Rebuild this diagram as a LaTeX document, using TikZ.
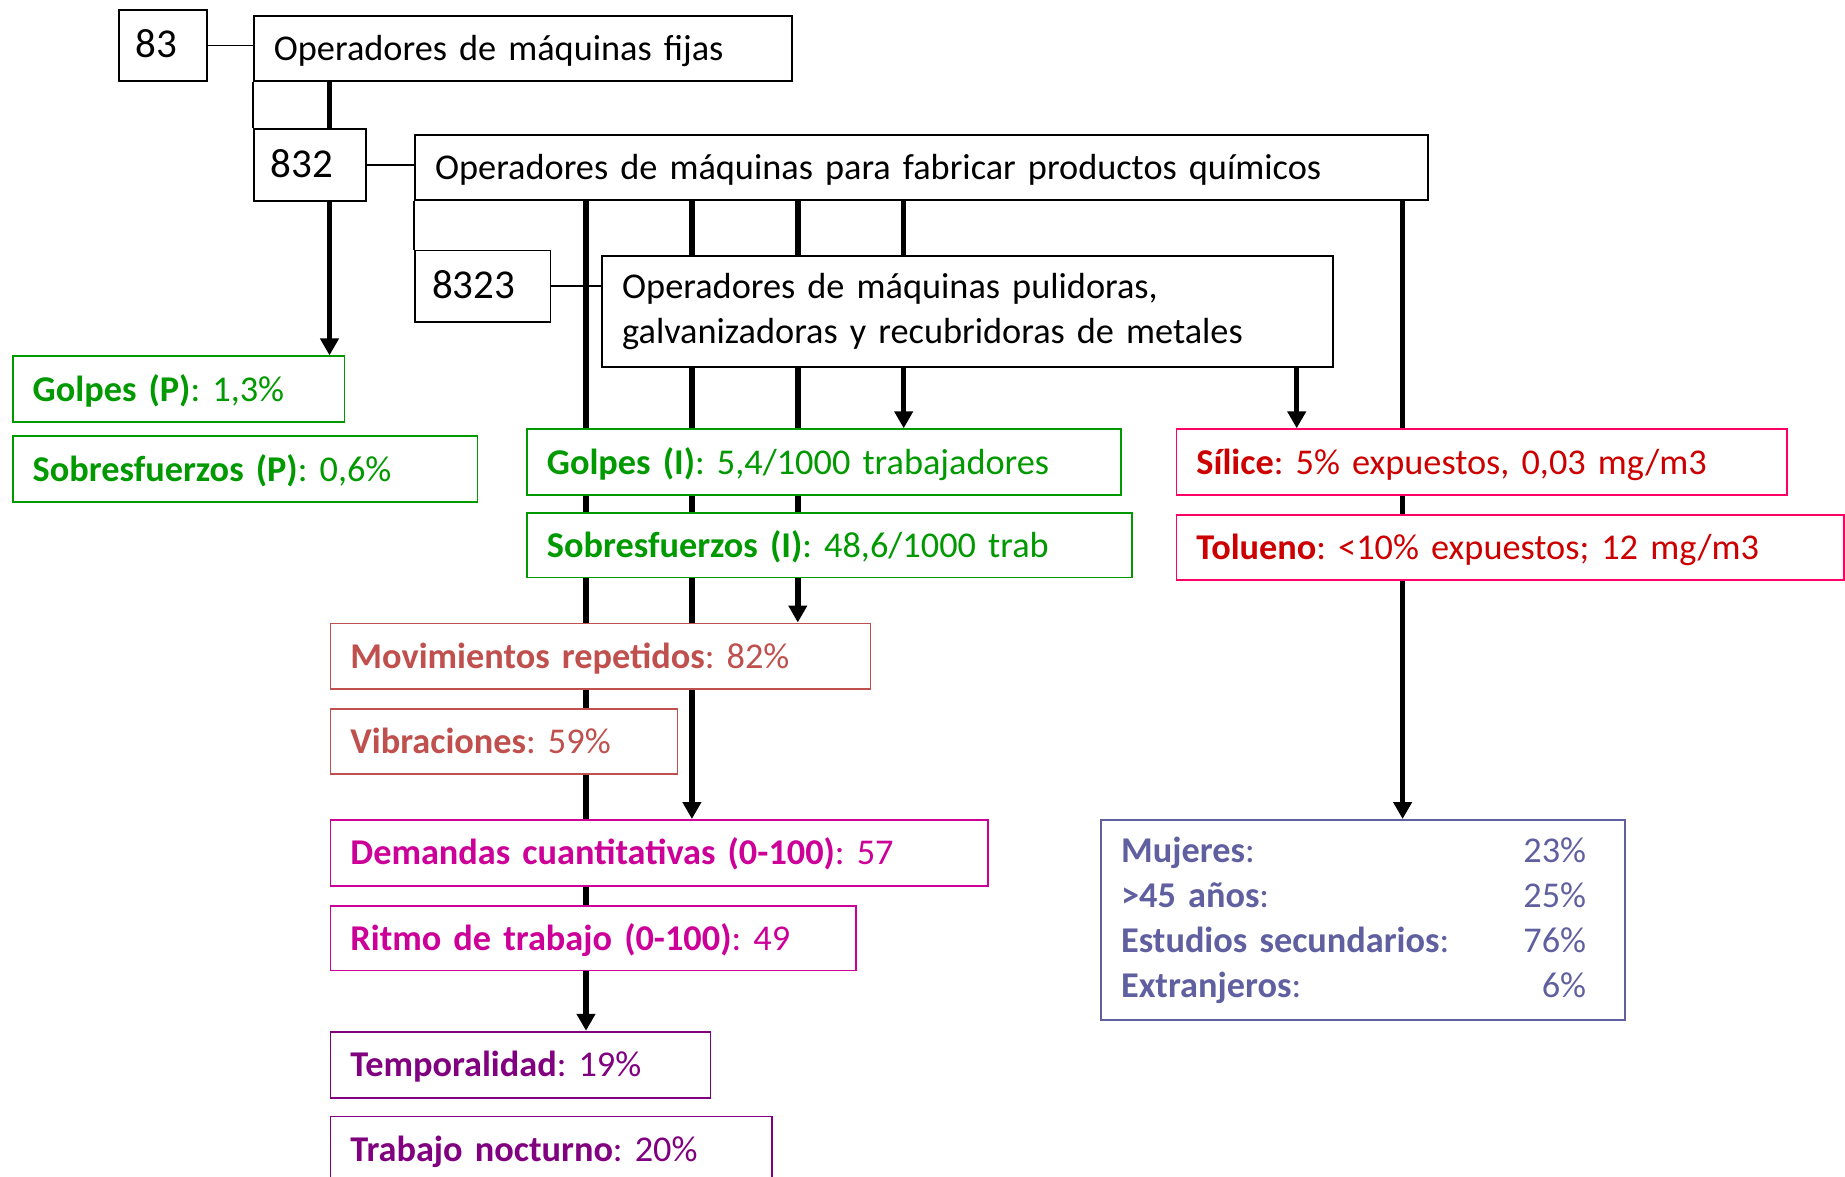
\documentclass[tikz,border=0pt]{standalone}
\usepackage{fontspec}
\setmainfont{Carlito}
\usetikzlibrary{arrows.meta,backgrounds}
\definecolor{cgreen}{RGB}{0,153,0}
\definecolor{cred}{RGB}{204,0,0}
\definecolor{cpink}{RGB}{255,0,102}
\definecolor{csalmon}{RGB}{192,80,77}
\definecolor{cmag}{RGB}{204,0,153}
\definecolor{cpurp}{RGB}{128,0,128}
\definecolor{cslate}{RGB}{96,96,160}
\frenchspacing
\begin{document}
\begin{tikzpicture}[x=1pt,y=-1pt,
 box/.style={draw, line width=1.8pt, fill=white, anchor=north west, inner xsep=20pt, inner ysep=0pt, align=left, font=\fontsize{36.3}{45}\selectfont},
 one/.style={text height=29pt, text depth=5pt},
 kbox/.style={box, one},
 numbox/.style={box, one, font=\fontsize{41}{45}\selectfont, inner xsep=17pt},
 gbox/.style={box, one, draw=cgreen, text=cgreen},
 rbox/.style={box, one, draw=cpink, text=cred},
 sbox/.style={box, one, draw=csalmon, text=csalmon},
 mbox/.style={box, one, draw=cmag, text=cmag},
 pbox/.style={box, one, draw=cpurp, text=cpurp},
 ubox/.style={box, draw=cslate, text=cslate},
 thinline/.style={line width=1.6pt},
 arr/.style={line width=5.5pt, -{Triangle[width=18pt,length=17pt]}},
 thickline/.style={line width=5.5pt},
]
\useasboundingbox (0,0) rectangle (1845,1176);

% top hierarchy
\node[numbox, text width=54.2pt, minimum height=70.6pt] (n83) at (117.7,9.4) {83};
\node[kbox, text width=497.7pt, minimum height=64.7pt] (fijas) at (253.0,15.3) {Operadores de máquinas fijas};
\node[numbox, text width=77.8pt, minimum height=71.7pt] (n832) at (253.0,128.3) {832};
\node[kbox, text width=973.1pt, minimum height=64.8pt] (chem) at (414.2,134.1) {Operadores de máquinas para fabricar productos químicos};
\node[numbox, text width=101.3pt, minimum height=71.7pt] (n8323) at (414.2,249.5) {8323};
\node[box, text width=690.7pt, minimum height=110.7pt] (pulid) at (601.3,255.3) {Operadores de máquinas pulidoras,\\galvanizadoras y recubridoras de metales};

% green
\node[gbox, text width=291.8pt, minimum height=65.8pt] (golpesP) at (11.8,355.4) {\textbf{Golpes (P)}: 1,3\%};
\node[gbox, text width=424.8pt, minimum height=65.9pt] (sobresP) at (11.8,435.4) {\textbf{Sobresfuerzos (P)}: 0,6\%};
\node[gbox, text width=554.2pt, minimum height=65.9pt] (golpesI) at (526.0,428.3) {\textbf{Golpes (I)}: 5,4/1000 trabajadores};
\node[gbox, text width=564.8pt, minimum height=64.8pt] (sobresI) at (526.0,511.8) {\textbf{Sobresfuerzos (I)}: 48,6/1000 trab};

% red
\node[rbox, text width=570.6pt, minimum height=65.9pt] (silice) at (1175.5,428.3) {\textbf{Sílice}: 5\% expuestos, 0,03 mg/m3};
\node[rbox, text width=627.5pt, minimum height=64.7pt] (tolueno) at (1175.5,514.2) {\textbf{Tolueno}: <10\% expuestos; 12 mg/m3};

% salmon
\node[sbox, text width=500.1pt, minimum height=65.8pt] (movim) at (329.5,622.5) {\textbf{Movimientos repetidos}: 82\%};
\node[sbox, text width=307.1pt, minimum height=64.8pt] (vibrac) at (329.5,708.3) {\textbf{Vibraciones}: 59\%};

% magenta
\node[mbox, text width=617.8pt, minimum height=65.9pt] (demandas) at (329.5,819.0) {\textbf{Demandas cuantitativas (0-100)}: 57};
\node[mbox, text width=485.9pt, minimum height=64.7pt] (ritmo) at (329.5,904.9) {\textbf{Ritmo de trabajo (0-100)}: 49};

% purple
\node[pbox, text width=340pt, minimum height=65.9pt] (temporal) at (329.5,1030.8) {\textbf{Temporalidad}: 19\%};
\node[pbox, text width=401.2pt, minimum height=66pt] (nocturno) at (329.5,1115.5) {\textbf{Trabajo nocturno}: 20\%};

% slate
\node[ubox, text width=483.6pt, minimum height=200pt] (mujeres) at (1100.2,819.0) {%
\makebox[465pt][l]{\textbf{Mujeres}:\hfill 23\%}\\
\makebox[465pt][l]{\textbf{>45 años}:\hfill 25\%}\\
\makebox[465pt][l]{\textbf{Estudios secundarios}:\hfill 76\%}\\
\makebox[465pt][l]{\textbf{Extranjeros}:\hfill 6\%}};

% column positions
\coordinate (xA) at (329.5,0);
\coordinate (xB) at (586.0,0);
\coordinate (xC) at (691.9,0);
\coordinate (xD) at (797.8,0);
\coordinate (xE) at (903.7,0);
\coordinate (xF) at (1296.7,0);
\coordinate (xG) at (1402.6,0);

\begin{scope}[on background layer]
\draw[thinline] (n83.east) -- (n83.east -| fijas.west);
\draw[thinline] (fijas.south west) -- (n832.north west);
\draw[thickline] (fijas.south -| xA) -- (n832.north -| xA);
\draw[thinline] (n832.east) -- (n832.east -| chem.west);
\draw[thinline] (chem.south west) -- (n8323.north west);
\draw[thinline] (n8323.east) -- (n8323.east -| pulid.west);
\draw[arr] (n832.south -| xA) -- (golpesP.north -| xA);
\draw[arr] (chem.south -| xB) -- (temporal.north -| xB);
\draw[arr] (chem.south -| xC) -- (demandas.north -| xC);
\draw[arr] (chem.south -| xD) -- (movim.north -| xD);
\draw[arr] (chem.south -| xE) -- (golpesI.north -| xE);
\draw[arr] (chem.south -| xG) -- (mujeres.north -| xG);
\draw[arr] (pulid.south -| xF) -- (silice.north -| xF);
\end{scope}
\end{tikzpicture}
\end{document}
